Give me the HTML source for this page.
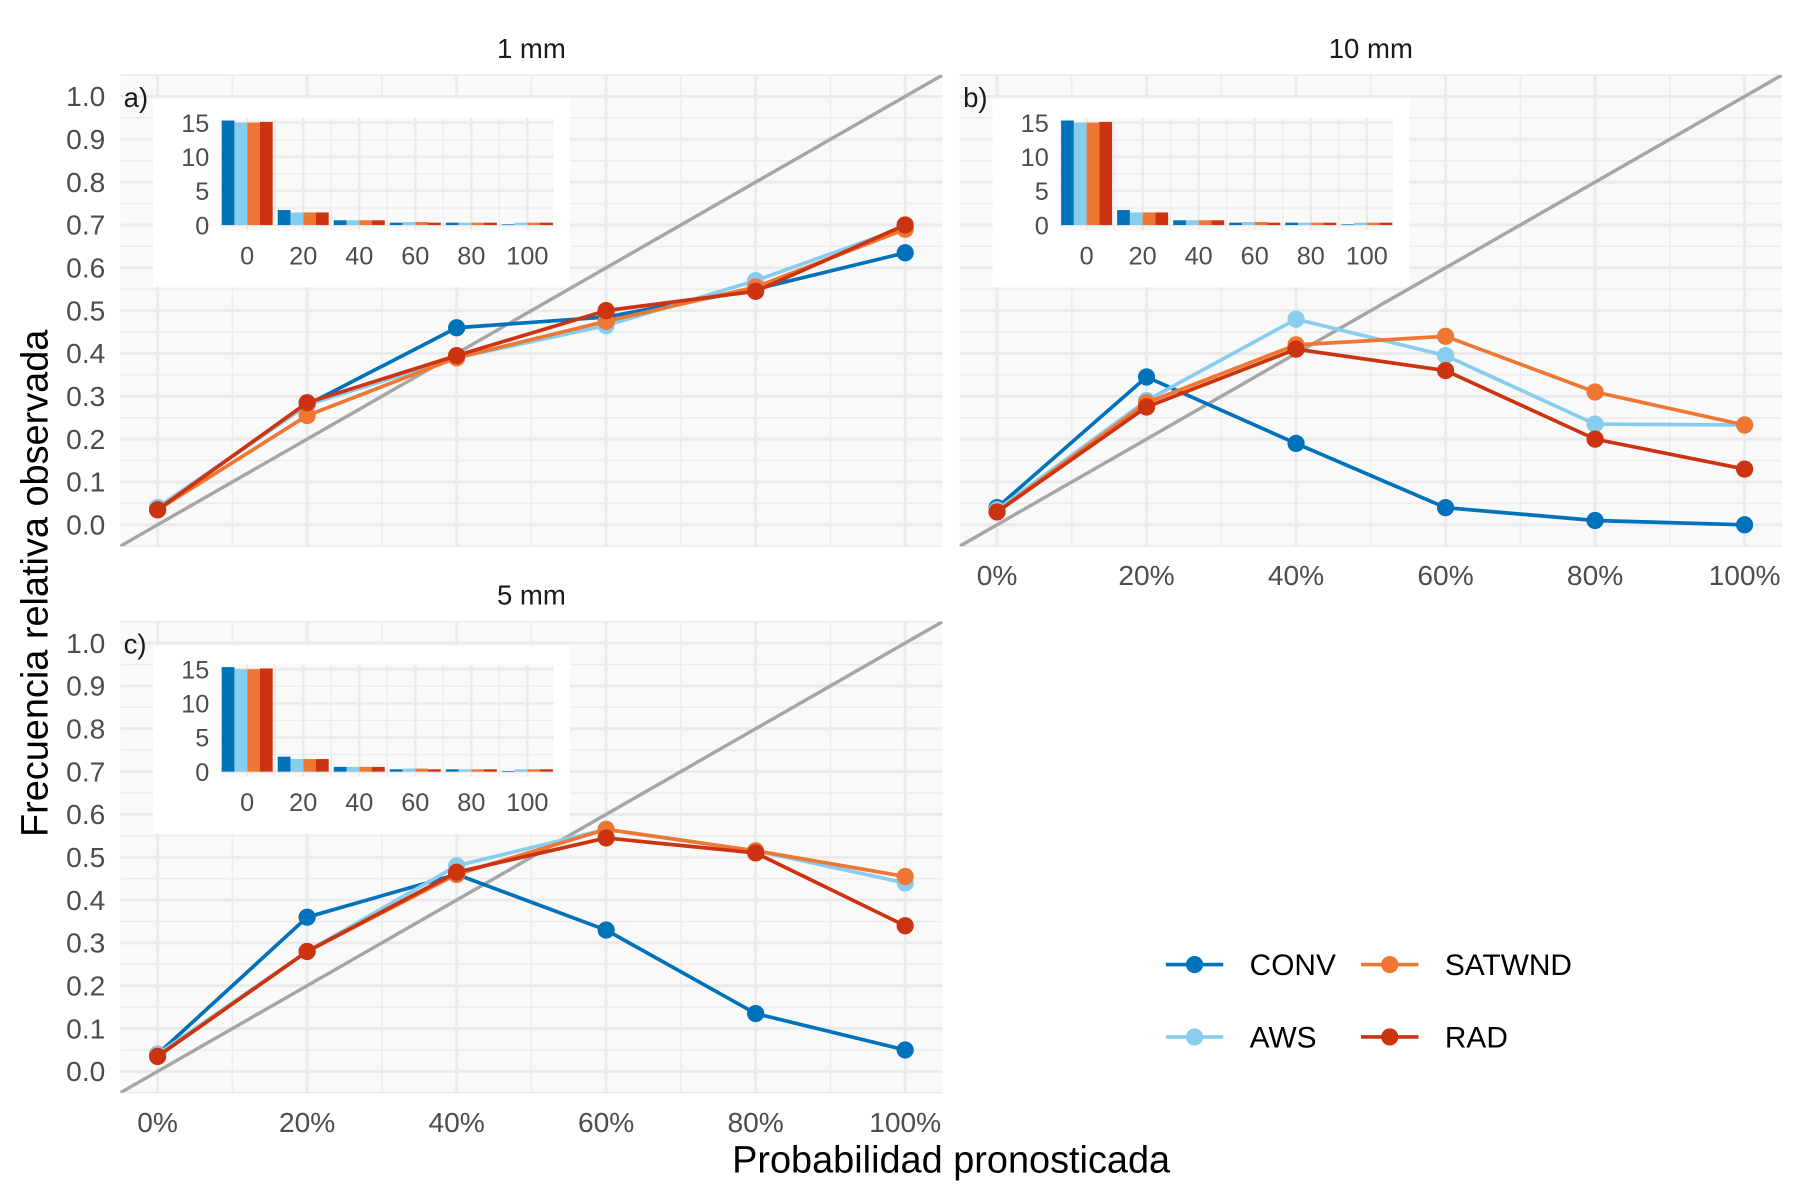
<!DOCTYPE html>
<html><head><meta charset="utf-8">
<style>
html,body{margin:0;padding:0;background:#fff;}
svg{display:block;font-family:"Liberation Sans",sans-serif;}
</style></head>
<body>
<svg id="chart" width="1800" height="1200" viewBox="0 0 1567 1045" xmlns="http://www.w3.org/2000/svg"></svg>
<script>
const seriesNames = ["CONV","AWS","SATWND","RAD"];
const seriesColors = ["#0072B9","#88CCEE","#EE7733","#CC3311"];
const probCategories = [0,20,40,60,80,100];
const xTickLabels = ["0%","20%","40%","60%","80%","100%"];
const yTickLabels = ["0.0","0.1","0.2","0.3","0.4","0.5","0.6","0.7","0.8","0.9","1.0"];
const insetTicksY = [0,5,10,15];
const insetTicksX = ["0","20","40","60","80","100"];
const panelTitles = ["1 mm","10 mm","5 mm"];
const panelTags = ["a)","b)","c)"];
const relA_CONV = [0.04,0.28,0.46,0.485,0.55,0.635];
const relA_AWS = [0.04,0.28,0.39,0.465,0.57,0.695];
const relA_SATWND = [0.035,0.255,0.39,0.475,0.555,0.69];
const relA_RAD = [0.035,0.285,0.395,0.50,0.545,0.70];
const relB_CONV = [0.04,0.345,0.19,0.04,0.01,0.0];
const relB_AWS = [0.035,0.29,0.48,0.395,0.235,0.233];
const relB_SATWND = [0.03,0.285,0.42,0.44,0.31,0.233];
const relB_RAD = [0.03,0.275,0.41,0.36,0.20,0.13];
const relC_CONV = [0.04,0.36,0.46,0.33,0.135,0.05];
const relC_AWS = [0.04,0.28,0.48,0.565,0.515,0.44];
const relC_SATWND = [0.035,0.28,0.46,0.565,0.515,0.455];
const relC_RAD = [0.035,0.28,0.465,0.545,0.51,0.34];
const histA_CONV = [15.3,2.2,0.7,0.35,0.35,0.1];
const histA_AWS = [15.0,1.85,0.7,0.45,0.35,0.35];
const histA_SATWND = [15.0,1.85,0.7,0.45,0.35,0.35];
const histA_RAD = [15.1,1.85,0.7,0.35,0.35,0.35];
const histB_CONV = [15.3,2.2,0.7,0.35,0.35,0.1];
const histB_AWS = [15.0,1.85,0.7,0.45,0.35,0.35];
const histB_SATWND = [15.0,1.85,0.7,0.45,0.35,0.35];
const histB_RAD = [15.1,1.85,0.7,0.35,0.35,0.35];
const histC_CONV = [15.3,2.2,0.7,0.35,0.35,0.1];
const histC_AWS = [15.0,1.85,0.7,0.45,0.35,0.35];
const histC_SATWND = [15.0,1.85,0.7,0.45,0.35,0.35];
const histC_RAD = [15.1,1.85,0.7,0.35,0.35,0.35];

const rel = [[relA_CONV,relA_AWS,relA_SATWND,relA_RAD],[relB_CONV,relB_AWS,relB_SATWND,relB_RAD],[relC_CONV,relC_AWS,relC_SATWND,relC_RAD]];
const hist = [[histA_CONV,histA_AWS,histA_SATWND,histA_RAD],[histB_CONV,histB_AWS,histB_SATWND,histB_RAD],[histC_CONV,histC_AWS,histC_SATWND,histC_RAD]];

const NS="http://www.w3.org/2000/svg";
const svg=document.getElementById('chart');
function mk(tag,attrs,parent){const e=document.createElementNS(NS,tag);for(const k in attrs)e.setAttribute(k,attrs[k]);(parent||svg).appendChild(e);return e;}

const panels=[{ox:0,oy:0,xl:false,yl:true},{ox:731,oy:0,xl:true,yl:false},{ox:0,oy:476,xl:true,yl:true}];
const defs=mk('defs',{});
panels.forEach((p,pi)=>{
  const xS=v=>137+p.ox+v*6.51;
  const yS=v=>457+p.oy-v*373;
  const x0=xS(-5),x1=xS(105),y0=yS(1.05),y1=yS(-0.05);
  const g=mk('g',{});
  
  
  const cp=mk('clipPath',{id:'cp'+pi},defs);
  mk('rect',{x:x0,y:y0,width:x1-x0,height:y1-y0},cp);
  const bg=mk('rect',{x:x0,y:y0,width:x1-x0,height:y1-y0,fill:'#f9f9f9'},g);
  
  
  for(let v=-0.05;v<=1.051;v+=0.1){mk('line',{x1:x0,x2:x1,y1:yS(v),y2:yS(v),stroke:'#ececec','stroke-width':1.3},g);}
  for(let v=10;v<=90;v+=20){mk('line',{x1:xS(v),x2:xS(v),y1:y0,y2:y1,stroke:'#ececec','stroke-width':1.3},g);}
  yTickLabels.forEach((t,i)=>{mk('line',{x1:x0,x2:x1,y1:yS(i/10),y2:yS(i/10),stroke:'#ebebeb','stroke-width':2.6},g);});
  probCategories.forEach(v=>{mk('line',{x1:xS(v),x2:xS(v),y1:y0,y2:y1,stroke:'#ebebeb','stroke-width':2.6},g);});
  const diag=mk('line',{x1:xS(-5),y1:yS(-0.05),x2:xS(105),y2:yS(1.05),stroke:'#a6a6a6','stroke-width':3,'clip-path':'url(#cp'+pi+')'},g);
  
  
  const st=mk('text',{x:(x0+x1)/2,y:y0-15,'text-anchor':'middle','font-size':24,fill:'#1a1a1a'},g);
  st.textContent=panelTitles[pi];
  
  
  const tg=mk('text',{x:x0+3,y:yS(1)+9,'font-size':24,fill:'#1a1a1a'},g);
  tg.textContent=panelTags[pi];
  
  
  if(p.yl){yTickLabels.forEach((t,i)=>{const e=mk('text',{x:x0-13,y:yS(i/10)+8.5,'text-anchor':'end','font-size':24.5,fill:'#4d4d4d'},g);e.textContent=t;
    
    });}
  if(p.xl){xTickLabels.forEach((t,i)=>{const e=mk('text',{x:xS(probCategories[i]),y:y1+34,'text-anchor':'middle','font-size':24.5,fill:'#4d4d4d'},g);e.textContent=t;
    
    });}
  seriesNames.forEach((s,si)=>{
    const sg=mk('g',{},g);
    
    
    const pts=rel[pi][si].map((v,i)=>xS(probCategories[i])+','+yS(v)).join(' ');
    const pl=mk('polyline',{points:pts,fill:'none',stroke:seriesColors[si],'stroke-width':3.2,'stroke-linejoin':'round'},sg);
    
    
    rel[pi][si].forEach((v,i)=>{const c=mk('circle',{cx:xS(probCategories[i]),cy:yS(v),r:7.5,fill:seriesColors[si]},sg);
      
      });
  });
  const ig=mk('g',{},g);
  
  
  const ix=v=>215+p.ox+v*2.44;
  const iy=v=>196+p.oy-v*5.95;
  mk('rect',{x:133+p.ox,y:86+p.oy,width:363,height:164,fill:'#ffffff'},ig);
  const ix0=ix(-9.4),ix1=ix(109.4),iy0=iy(15.7),iy1=iy(-0.75);
  mk('rect',{x:ix0,y:iy0,width:ix1-ix0,height:iy1-iy0,fill:'#f9f9f9'},ig);
  [2.5,7.5,12.5].forEach(v=>mk('line',{x1:ix0,x2:ix1,y1:iy(v),y2:iy(v),stroke:'#ececec','stroke-width':1.1},ig));
  [10,30,50,70,90].forEach(v=>mk('line',{x1:ix(v),x2:ix(v),y1:iy0,y2:iy1,stroke:'#ececec','stroke-width':1.1},ig));
  insetTicksY.forEach(v=>{mk('line',{x1:ix0,x2:ix1,y1:iy(v),y2:iy(v),stroke:'#ebebeb','stroke-width':2.2},ig);
    const e=mk('text',{x:ix0-10,y:iy(v)+8,'text-anchor':'end','font-size':22,fill:'#4d4d4d'},ig);e.textContent=v;
    
    });
  probCategories.forEach((v,i)=>{mk('line',{x1:ix(v),x2:ix(v),y1:iy0,y2:iy1,stroke:'#ebebeb','stroke-width':2.2},ig);
    const e=mk('text',{x:ix(v),y:iy1+30,'text-anchor':'middle','font-size':22,fill:'#4d4d4d'},ig);e.textContent=insetTicksX[i];
    
    });
  const bw=2.44*18.2/4;
  seriesNames.forEach((s,si)=>{hist[pi][si].forEach((v,i)=>{
    const bx=ix(probCategories[i]-9.1)+si*bw;
    const r=mk('rect',{x:bx,y:iy(v),width:bw,height:iy(0)-iy(v),fill:seriesColors[si]},ig);
    
    
  });});
});
const xt=mk('text',{x:828,y:1021,'text-anchor':'middle','font-size':33,fill:'#000'});
xt.textContent='Probabilidad pronosticada';


const yt=mk('text',{x:0,y:0,'text-anchor':'middle','font-size':33,fill:'#000',transform:'translate(41,508) rotate(-90)'});
yt.textContent='Frecuencia relativa observada';


const lg=mk('g',{});


const legPos=[[1015,840],[1015,903],[1185,840],[1185,903]];
seriesNames.forEach((s,si)=>{
  const [lx,ly]=legPos[si];
  const e=mk('g',{},lg);
  
  
  mk('line',{x1:lx,x2:lx+50,y1:ly,y2:ly,stroke:seriesColors[si],'stroke-width':3.2},e);
  mk('circle',{cx:lx+25,cy:ly,r:7.5,fill:seriesColors[si]},e);
  const t=mk('text',{x:lx+73,y:ly+9,'font-size':26,fill:'#000'},e);t.textContent=s;
});
</script>
</body></html>
